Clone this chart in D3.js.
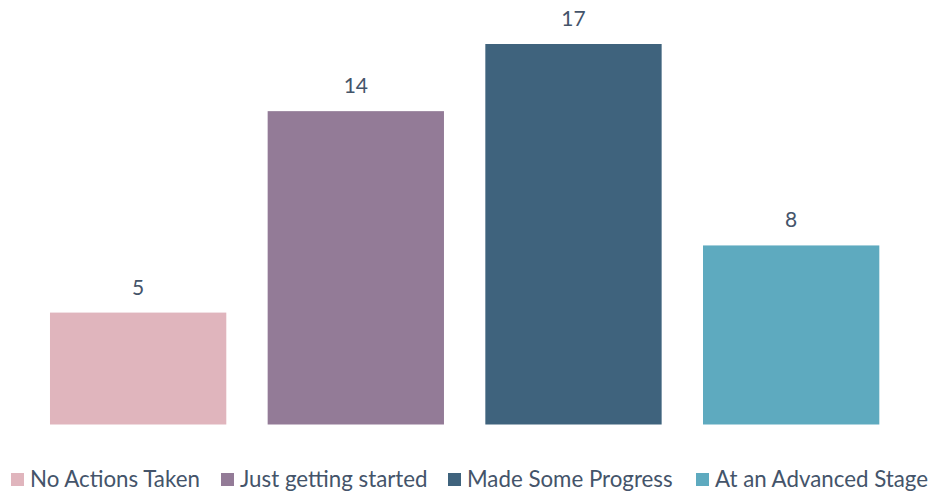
<!DOCTYPE html>
<html>
<head>
<meta charset="utf-8">
<script src="https://cdn.jsdelivr.net/npm/d3@7"></script>
<style>
  body { margin: 0; background: #fff; }
  text { font-family: "Lato", "Open Sans", sans-serif; }
</style>
</head>
<body>
<div id="chart"></div>
<script>
  const categories = ["No Actions Taken", "Just getting started", "Made Some Progress", "At an Advanced Stage"];
  const values = [5, 14, 17, 8];
  const barColors = ["#e0b5bd", "#937b97", "#3f637d", "#5eaabf"];

  const width = 931, height = 491;
  const textColor = "#44546a";

  const svg = d3.select("#chart")
    .append("svg")
    .attr("width", width)
    .attr("height", height);

  const x = d3.scaleBand()
    .domain(categories)
    .range([29.3, 900])
    .paddingInner(0.19)
    .paddingOuter(0.095);

  const y = d3.scaleLinear()
    .domain([0, 17])
    .range([424.5, 44]);

  const data = categories.map((c, i) => ({ cat: c, val: values[i], color: barColors[i] }));

  svg.selectAll("rect.bar")
    .data(data)
    .enter()
    .append("rect")
    .attr("class", "bar")
    .attr("x", d => x(d.cat))
    .attr("y", d => y(d.val))
    .attr("width", x.bandwidth())
    .attr("height", d => y(0) - y(d.val))
    .attr("fill", d => d.color);

  // value labels above bars
  svg.selectAll("text.val")
    .data(data)
    .enter()
    .append("text")
    .attr("class", "val")
    .attr("x", d => x(d.cat) + x.bandwidth() / 2)
    .attr("y", d => y(d.val) - 18)
    .attr("text-anchor", "middle")
    .attr("font-size", 21)
    .attr("fill", textColor)
    .text(d => d.val);

  // legend, one row at the bottom
  const legendX = [11, 221, 448, 696];
  const legend = svg.selectAll("g.leg")
    .data(data)
    .enter()
    .append("g")
    .attr("class", "leg")
    .attr("transform", (d, i) => `translate(${legendX[i]},473)`);

  legend.append("rect")
    .attr("width", 13)
    .attr("height", 13)
    .attr("fill", d => d.color);

  legend.append("text")
    .attr("x", 19)
    .attr("y", 14)
    .attr("font-size", 22.3)
    .attr("fill", textColor)
    .text(d => d.cat);
</script>
</body>
</html>
